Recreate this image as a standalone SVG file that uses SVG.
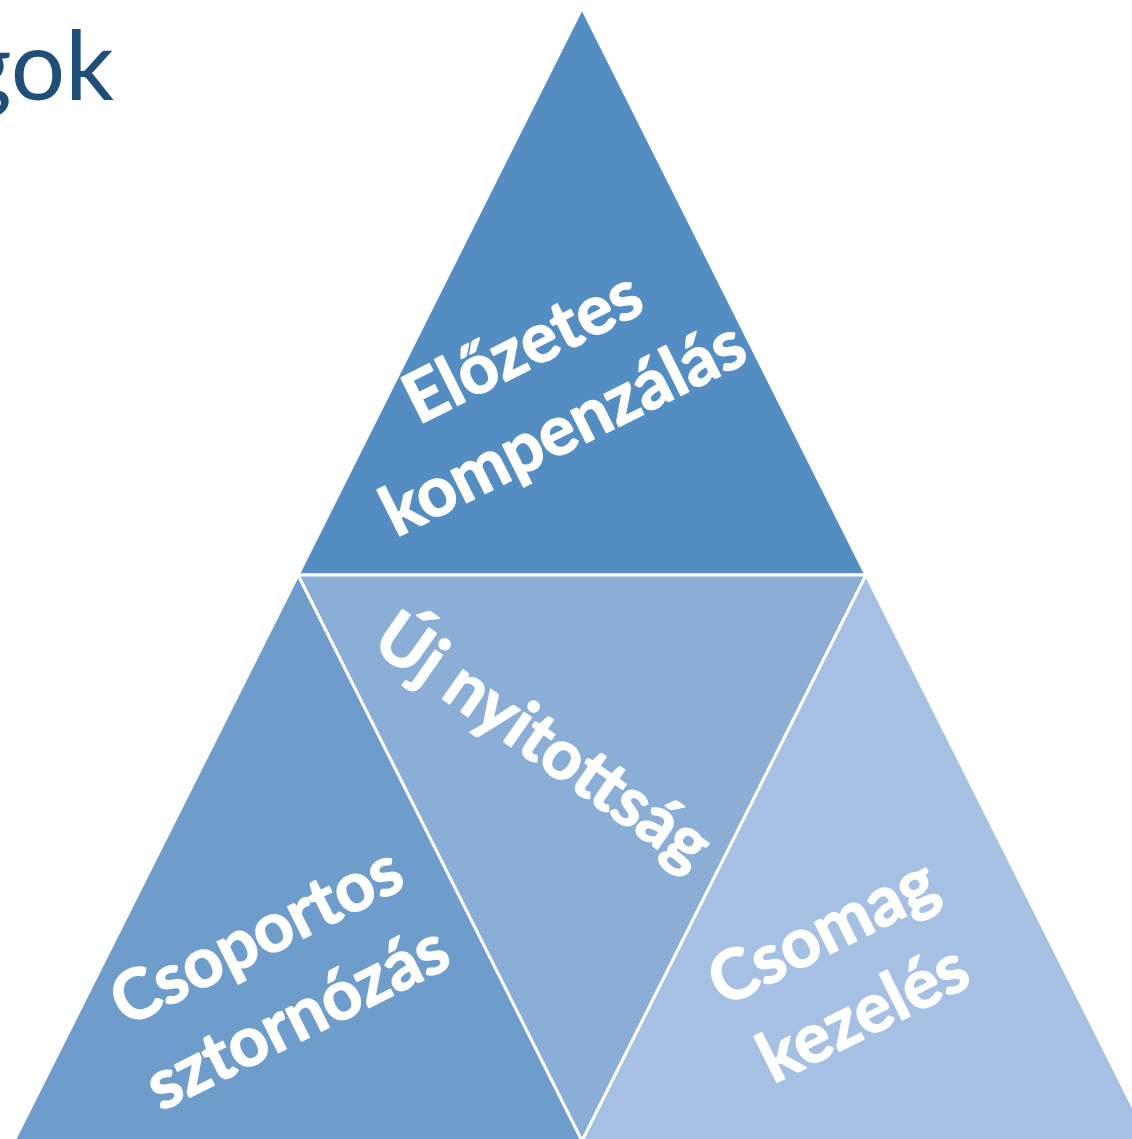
<svg xmlns="http://www.w3.org/2000/svg" width="1132" height="1139" viewBox="0 0 1132 1139">
<style>
.tri{stroke:#ffffff;stroke-width:3;stroke-linejoin:miter}
.lbl{font-family:Lato,"Open Sans","Liberation Sans",sans-serif;font-weight:bold;font-size:69px;fill:#ffffff;stroke:#ffffff;stroke-width:1.6;stroke-linejoin:round;text-anchor:middle}
.title{font-family:Lato,"Open Sans","Liberation Sans",sans-serif;font-size:96px;fill:#1F4E79;text-anchor:end}
</style>
<rect width="1132" height="1139" fill="#ffffff"/>
<text class="title" x="114" y="100">gok</text>
<g id="node-top">
<polygon class="tri" points="582,8 866,575 298,575" fill="#548DC1"/>
<g transform="translate(553,408) rotate(-26.57)">
<text class="lbl" x="0" y="-45">Előzetes</text>
<text class="lbl" x="0" y="46">kompenzálás</text>
</g>
</g>
<g id="node-middle">
<polygon class="tri" points="298,575 866,575 582,1141" fill="#8AAED6"/>
<g transform="translate(530,760) rotate(35)">
<text class="lbl" x="0" y="0">Új nyitottság</text>
</g>
</g>
<g id="node-left">
<polygon class="tri" points="298,575 582,1141 14,1141" fill="#6E9DCB"/>
<g transform="translate(287,997) rotate(-26.57)">
<text class="lbl" x="0" y="-45">Csoportos</text>
<text class="lbl" x="0" y="46">sztornózás</text>
</g>
</g>
<g id="node-right">
<polygon class="tri" points="866,575 1150,1141 582,1141" fill="#A5C0E3"/>
<g transform="translate(853,993) rotate(-26.57)">
<text class="lbl" x="0" y="-45">Csomag</text>
<text class="lbl" x="0" y="46">kezelés</text>
</g>
</g>
<g id="connectors"></g>
</svg>
